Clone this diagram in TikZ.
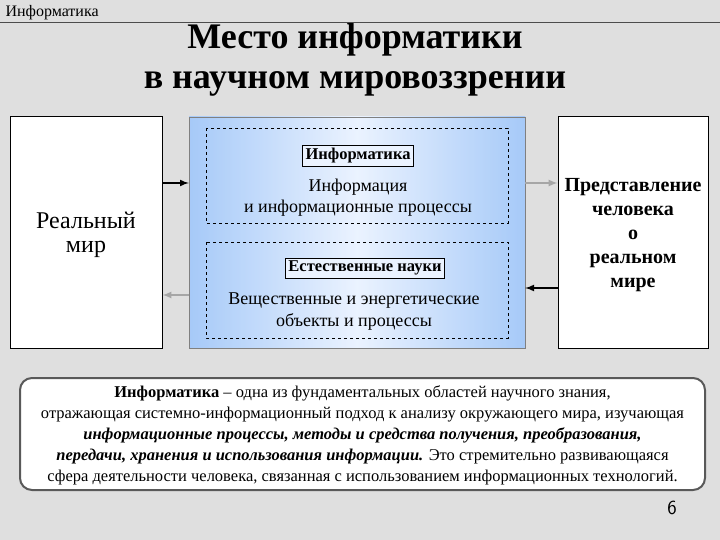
\documentclass[tikz,border=0pt]{standalone}
\usepackage{fontspec}
\setmainfont{Liberation Serif}
\definecolor{sky}{RGB}{130,180,245}
\definecolor{skyl}{RGB}{235,243,255}
\begin{document}
\begin{tikzpicture}[x=1pt,y=-1pt,
  fs/.style={font=\fontsize{#1}{#1}\selectfont},
  side/.style={draw=black,line width=1pt,fill=white},
  dbox/.style={draw=black,dashed,thin},
  lbl/.style={draw=black,fill=skyl,inner sep=3pt,font=\fontsize{16.5}{18}\selectfont\bfseries},
  arrB/.style={-latex,line width=2pt,black},
  arrG/.style={-latex,line width=2pt,gray!70}]
\fill[gray!25] (0,0) rectangle (720,540);
\useasboundingbox (0,0) rectangle (720,540);
\node[anchor=west,fs=16] (hdr) at (2,13) {Информатика};
\draw[gray!60!black] (0,22) -- (720,22);
\node[font=\bfseries\fontsize{36}{40}\selectfont,align=center] (title) at (355,60) {Место информатики\\в научном мировоззрении};
\node[side,minimum width=152,minimum height=231] (L) at (86,232.5) {};
\node[fs=24,align=center] at (86,235) {Реальный\\мир};
\shade[left color=sky,right color=sky,middle color=skyl] (189,117) rectangle (525,348);
\shade[top color=skyl,bottom color=skyl,middle color=skyl,opacity=0.35] (189,117) rectangle (525,348);
\draw[gray] (189,117) rectangle (525,348);
\node[minimum width=336,minimum height=231] (Cn) at (357,232.5) {};
\draw[dbox] (206,128) rectangle (508,223);
\draw[dbox] (206,242) rectangle (508,338);
\node[lbl] (inf) at (358,156) {Информатика};
\node[align=center,font=\fontsize{18}{21}\selectfont] (infp) at (358,198) {Информация\\и информационные процессы};
\node[lbl] (nat) at (365,268) {Естественные науки};
\node[align=center,font=\fontsize{18}{22}\selectfont] (mat) at (354,312) {Вещественные и энергетические\\объекты и процессы};
\node[side,minimum width=150,minimum height=231] (R) at (633,232.5) {};
\node[align=center,font=\bfseries\fontsize{20}{24}\selectfont] at (633,235) {Представление\\человека\\о\\реальном\\мире};
\draw[arrB] (L.east|-0,183) -- (Cn.west|-0,183);
\draw[arrG] (Cn.west|-0,295) -- (L.east|-0,295);
\draw[arrG] (Cn.east|-0,183) -- (R.west|-0,183);
\draw[arrB] (R.west|-0,288) -- (Cn.east|-0,288);
\node[draw=gray!70!black,line width=2pt,fill=white,rounded corners=12,minimum width=685,minimum height=112] (B) at (362.5,434) {};
\node[align=center,font=\fontsize{16.5}{21}\selectfont] at (362.5,435) {\textbf{Информатика} -- одна из фундаментальных областей научного знания,\\
отражающая системно-информационный подход к анализу окружающего мира, изучающая\\
\textbf{\textit{информационные процессы, методы и средства получения, преобразования,}}\\
\textbf{\textit{передачи, хранения и использования информации.}} Это стремительно развивающаяся\\
сфера деятельности человека, связанная с использованием информационных технологий.};
\node[font=\sffamily\fontsize{20}{20}\selectfont] (pg) at (672,508) {6};
\end{tikzpicture}
\end{document}
